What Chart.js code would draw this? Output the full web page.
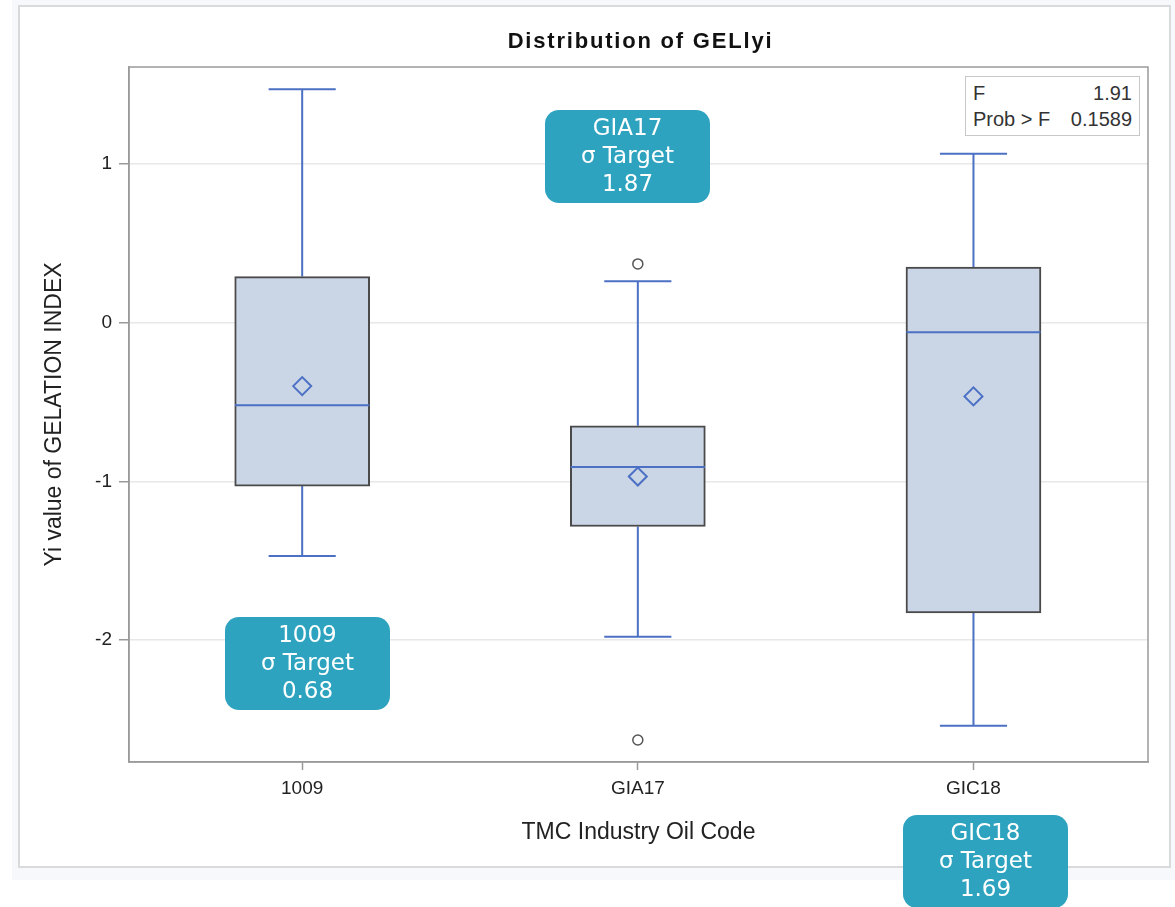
<!DOCTYPE html>
<html>
<head>
<meta charset="utf-8">
<script src="https://cdn.jsdelivr.net/npm/chart.js@4/dist/chart.umd.min.js"></script>
<style>
    body { margin: 0; background: #ffffff; }
    #wrap { position: relative; width: 1175px; height: 907px; overflow: hidden; }
    .callout {
        position: absolute;
        width: 165px;
        height: 93px;
        background: #2da3bf;
        border-radius: 14px;
        color: #ffffff;
        font-family: "DejaVu Sans", "Open Sans", sans-serif;
        font-size: 23px;
        line-height: 28px;
        text-align: center;
        padding-top: 3px;
        box-sizing: border-box;
    }
    #stats {
        position: absolute;
        left: 965px;
        top: 76px;
        width: 175px;
        height: 60px;
        border: 1px solid #c8c8c8;
        background: #ffffff;
        font-family: "Liberation Sans", Arial, sans-serif;
        font-size: 20px;
        color: #333333;
        box-sizing: border-box;
        padding: 3px 7px 0 7px;
        line-height: 26px;
    }
    #stats div { display: flex; justify-content: space-between; }
</style>
</head>
<body>
<div id="wrap">
    <canvas id="boxChart" width="1175" height="907"></canvas>
    <div id="stats">
        <div><span>F</span><span>1.91</span></div>
        <div><span>Prob &gt; F</span><span>0.1589</span></div>
    </div>
    <div class="callout" style="left:545px; top:110px;">GIA17<br>σ Target<br>1.87</div>
    <div class="callout" style="left:225px; top:617px;">1009<br>σ Target<br>0.68</div>
    <div class="callout" style="left:903px; top:815px;">GIC18<br>σ Target<br>1.69</div>
</div>
<script>
// Box plot values per oil code
const categories = ['1009', 'GIA17', 'GIC18'];
const whiskerLow = [-1.47, -1.98, -2.54];
const q1Values = [-1.03, -1.285, -1.83];
const medianValues = [-0.52, -0.91, -0.06];
const q3Values = [0.29, -0.65, 0.35];
const whiskerHigh = [1.47, 0.26, 1.065];
const meanValues = [-0.40, -0.97, -0.465];
// outliers: [category index, value]
const outlierPoints = [[1, 0.37], [1, -2.63]];
const yTicks = [1, 0, -1, -2];

const boxColor = '#cad5e6';
const boxBorder = '#4a4a4a';
const lineBlue = '#4b70c4';
const fontFamily = '"Liberation Sans", Arial, sans-serif';

// Frame behind the whole chart + plot border + title
const framePlugin = {
    id: 'frame',
    beforeDraw(chart) {
        const ctx = chart.ctx;
        ctx.save();
        ctx.fillStyle = '#f6f8fc';
        ctx.fillRect(12, 0, 1163, 880);
        ctx.fillStyle = '#ffffff';
        ctx.fillRect(19, 6, 1151, 861);
        ctx.strokeStyle = '#d9dadc';
        ctx.lineWidth = 2;
        ctx.strokeRect(19, 6, 1151, 861);
        ctx.restore();
    },
    afterDraw(chart) {
        const ctx = chart.ctx;
        const area = chart.chartArea;
        ctx.save();
        ctx.strokeStyle = '#9a9a9a';
        ctx.lineWidth = 1.5;
        ctx.strokeRect(area.left, area.top, area.right - area.left, area.bottom - area.top);
        ctx.fillStyle = '#111111';
        ctx.font = 'bold 22px ' + fontFamily;
        ctx.letterSpacing = '1.8px';
        ctx.textAlign = 'center';
        ctx.textBaseline = 'middle';
        ctx.fillText('Distribution of GELlyi', (area.left + area.right) / 2 + 2, 42);
        ctx.restore();
    }
};

// Whiskers, caps and median lines, placed through the chart scales
const boxPartsPlugin = {
    id: 'boxParts',
    beforeDatasetsDraw(chart) {
        const ctx = chart.ctx;
        const xs = chart.scales.x;
        const ys = chart.scales.y;
        ctx.save();
        ctx.strokeStyle = lineBlue;
        ctx.lineWidth = 2;
        categories.forEach((c, i) => {
            const x = xs.getPixelForValue(i);
            const capL = xs.getPixelForValue(i - 0.1);
            const capR = xs.getPixelForValue(i + 0.1);
            ctx.beginPath();
            ctx.moveTo(x, ys.getPixelForValue(q3Values[i]));
            ctx.lineTo(x, ys.getPixelForValue(whiskerHigh[i]));
            ctx.moveTo(capL, ys.getPixelForValue(whiskerHigh[i]));
            ctx.lineTo(capR, ys.getPixelForValue(whiskerHigh[i]));
            ctx.moveTo(x, ys.getPixelForValue(q1Values[i]));
            ctx.lineTo(x, ys.getPixelForValue(whiskerLow[i]));
            ctx.moveTo(capL, ys.getPixelForValue(whiskerLow[i]));
            ctx.lineTo(capR, ys.getPixelForValue(whiskerLow[i]));
            ctx.stroke();
        });
        ctx.restore();
    },
    afterDatasetDraw(chart, args) {
        if (args.index !== 0) return;
        const ctx = chart.ctx;
        const xs = chart.scales.x;
        const ys = chart.scales.y;
        ctx.save();
        ctx.strokeStyle = lineBlue;
        ctx.lineWidth = 2;
        categories.forEach((c, i) => {
            const y = ys.getPixelForValue(medianValues[i]);
            ctx.beginPath();
            ctx.moveTo(xs.getPixelForValue(i - 0.2), y);
            ctx.lineTo(xs.getPixelForValue(i + 0.2), y);
            ctx.stroke();
        });
        ctx.restore();
    }
};

const ctxBox = document.getElementById('boxChart').getContext('2d');
const boxChart = new Chart(ctxBox, {
    data: {
        datasets: [{
            type: 'bar',
            label: 'Box',
            order: 2,
            data: categories.map((c, i) => ({ x: i, y: [q1Values[i], q3Values[i]] })),
            backgroundColor: boxColor,
            borderColor: boxBorder,
            borderWidth: 2,
            borderSkipped: false,
            barThickness: 135
        }, {
            type: 'scatter',
            label: 'Mean',
            order: 0,
            data: categories.map((c, i) => ({ x: i, y: meanValues[i] })),
            pointStyle: 'rectRot',
            pointRadius: 9,
            backgroundColor: 'rgba(0,0,0,0)',
            borderColor: lineBlue,
            borderWidth: 2
        }, {
            type: 'scatter',
            label: 'Outliers',
            order: 1,
            data: outlierPoints.map(p => ({ x: p[0], y: p[1] })),
            pointStyle: 'circle',
            pointRadius: 5,
            backgroundColor: '#ffffff',
            borderColor: '#555555',
            borderWidth: 1.5
        }]
    },
    options: {
        responsive: false,
        animation: false,
        layout: { padding: { top: 67, right: 27, left: 37, bottom: 57 } },
        plugins: {
            legend: { display: false },
            tooltip: { enabled: false }
        },
        scales: {
            x: {
                type: 'linear',
                offset: false,
                min: -0.516,
                max: 2.52,
                afterBuildTicks(scale) {
                    scale.ticks = categories.map((c, i) => ({ value: i }));
                },
                afterFit(scale) { scale.height = 88; },
                ticks: {
                    callback: (v) => categories[v],
                    color: '#222222',
                    padding: 7,
                    maxRotation: 0,
                    font: { family: fontFamily, size: 19 }
                },
                grid: { offset: false, drawOnChartArea: false, tickLength: 8, tickColor: '#9a9a9a', tickWidth: 1.5 },
                border: { color: '#9a9a9a', width: 1.5 },
                title: {
                    display: true,
                    text: 'TMC Industry Oil Code',
                    color: '#222222',
                    padding: { top: 4, bottom: 4 },
                    font: { family: fontFamily, size: 23 }
                }
            },
            y: {
                min: -2.769,
                max: 1.611,
                afterBuildTicks(scale) {
                    scale.ticks = yTicks.map(v => ({ value: v }));
                },
                afterFit(scale) { scale.width = 92; },
                ticks: {
                    color: '#222222',
                    padding: 7,
                    font: { family: fontFamily, size: 19 }
                },
                grid: { color: '#e8e8e8', lineWidth: 1.5, tickLength: 10, tickColor: '#9a9a9a' },
                border: { color: '#9a9a9a', width: 1.5 },
                title: {
                    display: true,
                    text: 'Yi value of GELATION INDEX',
                    color: '#222222',
                    padding: { top: 4, bottom: 4 },
                    font: { family: fontFamily, size: 23 }
                }
            }
        }
    },
    plugins: [framePlugin, boxPartsPlugin]
});
</script>
</body>
</html>
